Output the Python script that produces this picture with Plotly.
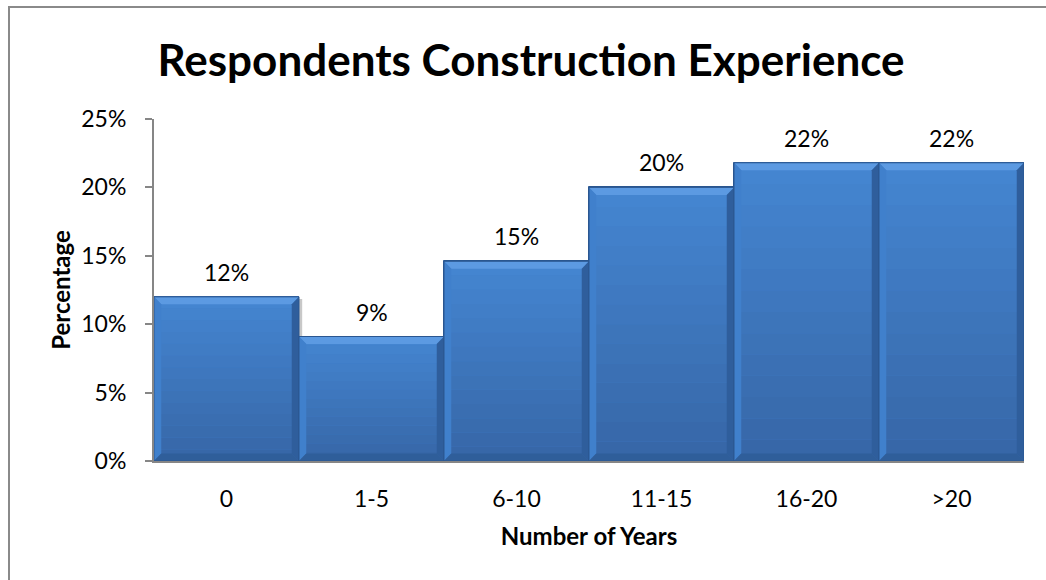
import plotly.graph_objects as go

# Survey data: share of respondents by years of construction experience
categories = ["0", "1-5", "6-10", "11-15", "16-20", ">20"]
percentages = [12.0, 9.1, 14.6, 20.0, 21.8, 21.8]
y_ticks = [0, 5, 10, 15, 20, 25]

FONT = "Lato"
AXIS_GREY = "#868686"

x_pos = list(range(len(categories)))

fig = go.Figure()
fig.add_trace(go.Bar(
    x=x_pos,
    y=percentages,
    width=1.0,
    marker=dict(color="#3F7BC6", line=dict(color="#2A5690", width=1)),
    hoverinfo="skip",
    showlegend=False,
))


def lerp_hex(c0, c1, t):
    a = [int(c0[i:i + 2], 16) for i in (1, 3, 5)]
    b = [int(c1[i:i + 2], 16) for i in (1, 3, 5)]
    return "#" + "".join(f"{round(a[k] + (b[k] - a[k]) * t):02x}" for k in range(3))


shapes = []
dx = 0.05   # bevel width in x units
dy = 0.55   # bevel height in y units
bands = 14
for i, v in zip(x_pos, percentages):
    x0, x1 = i - 0.5, i + 0.5
    # drop shadow on the right
    shapes.append(dict(type="rect", xref="x", yref="y", x0=x1 - 0.01, x1=x1 + 0.022,
                       y0=0, y1=v - 0.15, fillcolor="#c8c8c8", line_width=0, layer="below"))
    # vertical gradient of the face
    for b in range(bands):
        ya = v * b / bands
        yb = v * (b + 1) / bands
        col = lerp_hex("#3666A6", "#4586D2", (b + 0.5) / bands)
        shapes.append(dict(type="rect", xref="x", yref="y", x0=x0 + 0.003, x1=x1 - 0.003,
                           y0=ya, y1=yb, fillcolor=col, line_width=0, layer="above"))
    # bevel edges
    shapes.append(dict(type="path", xref="x", yref="y", layer="above", line_width=0,
                       fillcolor="#5C9AE2",
                       path=f"M{x0},{v} L{x1},{v} L{x1 - dx},{v - dy} L{x0 + dx},{v - dy} Z"))
    shapes.append(dict(type="path", xref="x", yref="y", layer="above", line_width=0,
                       fillcolor="#4080CC",
                       path=f"M{x0},0 L{x0},{v} L{x0 + dx},{v - dy} L{x0 + dx},{dy} Z"))
    shapes.append(dict(type="path", xref="x", yref="y", layer="above", line_width=0,
                       fillcolor="#2F5E9C",
                       path=f"M{x1},0 L{x1},{v} L{x1 - dx},{v - dy} L{x1 - dx},{dy} Z"))
    shapes.append(dict(type="path", xref="x", yref="y", layer="above", line_width=0,
                       fillcolor="#2F5E9A",
                       path=f"M{x0},0 L{x1},0 L{x1 - dx},{dy} L{x0 + dx},{dy} Z"))
    # thin outline
    shapes.append(dict(type="rect", xref="x", yref="y", x0=x0, x1=x1, y0=0, y1=v,
                       line=dict(color="#2A5690", width=1), fillcolor="rgba(0,0,0,0)",
                       layer="above"))

# chart frame (top and left edges fall inside the page)
shapes.append(dict(type="rect", xref="paper", yref="paper",
                   x0=-145 / 870, x1=1.10, y0=-0.40, y1=(461 - 7) / 342,
                   line=dict(color="#8a8a8a", width=2), fillcolor="rgba(0,0,0,0)",
                   layer="below"))

annotations = [
    dict(x=i, y=v, xref="x", yref="y", text=f"{v:.0f}%", showarrow=False,
         yshift=25, font=dict(family=FONT, size=23, color="#000000"))
    for i, v in zip(x_pos, percentages)
]

fig.update_layout(
    width=1046,
    height=580,
    margin=dict(l=154, r=22, t=119, b=119),
    paper_bgcolor="white",
    plot_bgcolor="white",
    bargap=0,
    shapes=shapes,
    annotations=annotations,
    title=dict(
        text="<b>Respondents Construction Experience</b>",
        font=dict(family=FONT, size=44, color="#000000"),
        x=531 / 1046, xanchor="center",
        y=1 - 61 / 580, yanchor="middle", yref="container",
    ),
    xaxis=dict(
        range=[-0.5, 5.5],
        tickvals=x_pos,
        ticktext=categories,
        showline=True, linecolor=AXIS_GREY, linewidth=2,
        ticks="", showgrid=False, zeroline=False,
        ticklabelstandoff=16,
        tickfont=dict(family=FONT, size=23, color="#000000"),
        title=dict(text="<b>Number of Years</b>", standoff=18,
                   font=dict(family=FONT, size=24, color="#000000")),
    ),
    yaxis=dict(
        range=[0, 25],
        tickvals=y_ticks,
        ticktext=[f"{t}%" for t in y_ticks],
        showline=True, linecolor=AXIS_GREY, linewidth=2,
        ticks="outside", ticklen=7, tickcolor=AXIS_GREY, tickwidth=2,
        showgrid=False, zeroline=False,
        ticklabelstandoff=14,
        tickfont=dict(family=FONT, size=23, color="#000000"),
        title=dict(text="<b>Percentage</b>", standoff=4,
                   font=dict(family=FONT, size=24, color="#000000")),
    ),
)

fig.write_html("out.html")
